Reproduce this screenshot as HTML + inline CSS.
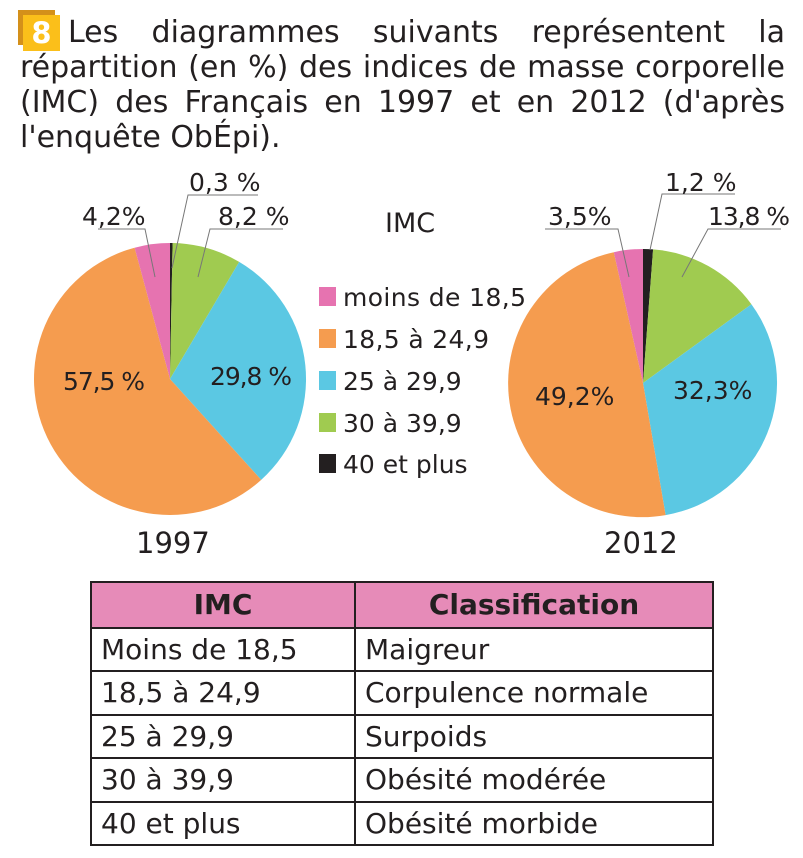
<!DOCTYPE html>
<html><head><meta charset="utf-8"><style>
body{margin:0;width:803px;height:858px;background:#fff;position:relative;overflow:hidden;font-family:"DejaVu Sans","Liberation Sans",sans-serif;color:#231f20}
.l{position:absolute;font-size:30px;white-space:nowrap;text-align:justify;text-align-last:justify;line-height:36px}
table{position:absolute;left:90px;top:581px;border-collapse:collapse;font-size:28px;table-layout:fixed;width:622px}
td{border:2px solid #231f20;height:41.5px;padding:0 0 0 9px;white-space:nowrap}
th{border:2px solid #231f20;height:41.5px;background:#e68bb8;font-size:28px}
</style></head><body>
<div style="position:absolute;left:18px;top:10px;width:37px;height:35px;background:#d4901a"></div>
<div style="position:absolute;left:23px;top:15px;width:37px;height:36px;background:#fbbf1a;color:#fff;font-weight:bold;font-size:29px;text-align:center;line-height:36px">8</div>
<div class="l" style="left:68px;top:15px;width:717px">Les diagrammes suivants représentent la</div>
<div class="l" style="left:20px;top:50px;width:765px">répartition (en %) des indices de masse corporelle</div>
<div class="l" style="left:20px;top:85px;width:765px">(IMC) des Français en 1997 et en 2012 (d'après</div>
<div class="l" style="left:20px;top:120px;text-align-last:left">l'enquête ObÉpi).</div>
<svg width="803" height="570" style="position:absolute;left:0;top:0" font-family="DejaVu Sans, Liberation Sans, sans-serif" fill="#231f20">
<path d="M170,379 L170,243 A136,136 0 0 1 172.6,243 Z" fill="#231f20"/>
<path d="M170,379 L172.6,243 A136,136 0 0 1 239.2,261.9 Z" fill="#a0cb50"/>
<path d="M170,379 L239.2,261.9 A136,136 0 0 1 261.2,479.9 Z" fill="#5bc8e3"/>
<path d="M170,379 L261.2,479.9 A136,136 0 1 1 134.6,247.7 Z" fill="#f59c4f"/>
<path d="M170,379 L134.6,247.7 A136,136 0 0 1 170,243 Z" fill="#e673b0"/>
<path d="M643,383 L643,249 A134,134 0 0 1 653.1,249.4 Z" fill="#231f20"/>
<path d="M643,383 L653.1,249.4 A134,134 0 0 1 751.4,304.2 Z" fill="#a0cb50"/>
<path d="M643,383 L751.4,304.2 A134,134 0 0 1 665.6,515.1 Z" fill="#5bc8e3"/>
<path d="M643,383 L665.6,515.1 A134,134 0 0 1 613.8,252.2 Z" fill="#f59c4f"/>
<path d="M643,383 L613.8,252.2 A134,134 0 0 1 643,249 Z" fill="#e673b0"/>
<g stroke="#777" stroke-width="1" fill="none">
<polyline points="98,229 145,229 155,277"/>
<polyline points="258,195 188,195 172,268"/>
<polyline points="283,229 210,229 198,277"/>
<polyline points="735,194 662,194 650,250"/>
<polyline points="545,229 618,229 629,277"/>
<polyline points="781,229 708,229 682,277"/>
</g>
<g font-size="25">
<text x="82" y="225">4,2%</text>
<text x="189" y="191">0,3 %</text>
<text x="218" y="225">8,2 %</text>
<text x="665" y="191">1,2 %</text>
<text x="548" y="225">3,5%</text>
<text x="708" y="225" textLength="82">13,8 %</text>
<text x="63" y="390" textLength="82">57,5 %</text>
<text x="210" y="385" textLength="82">29,8 %</text>
<text x="535" y="405">49,2%</text>
<text x="673" y="399">32,3%</text>
</g>
<g font-size="29">
<text x="136" y="553">1997</text>
<text x="604" y="553">2012</text>
<text x="385" y="232" font-size="27">IMC</text>
</g>
<g font-size="25">
<rect x="319" y="287" width="17" height="19" fill="#e673b0"/><text x="343" y="306" textLength="183">moins de 18,5</text>
<rect x="319" y="329" width="17" height="19" fill="#f59c4f"/><text x="343" y="348" textLength="146">18,5 à 24,9</text>
<rect x="319" y="371" width="17" height="19" fill="#5bc8e3"/><text x="343" y="390">25 à 29,9</text>
<rect x="319" y="413" width="17" height="19" fill="#a0cb50"/><text x="343" y="432">30 à 39,9</text>
<rect x="319" y="454" width="17" height="19" fill="#231f20"/><text x="343" y="473">40 et plus</text>
</g>
</svg>
<table>
<colgroup><col style="width:264px"><col style="width:358px"></colgroup>
<tr><th>IMC</th><th>Classification</th></tr>
<tr><td>Moins de 18,5</td><td>Maigreur</td></tr>
<tr><td>18,5 à 24,9</td><td>Corpulence normale</td></tr>
<tr><td>25 à 29,9</td><td>Surpoids</td></tr>
<tr><td>30 à 39,9</td><td>Obésité modérée</td></tr>
<tr><td>40 et plus</td><td>Obésité morbide</td></tr>
</table>
</body></html>
